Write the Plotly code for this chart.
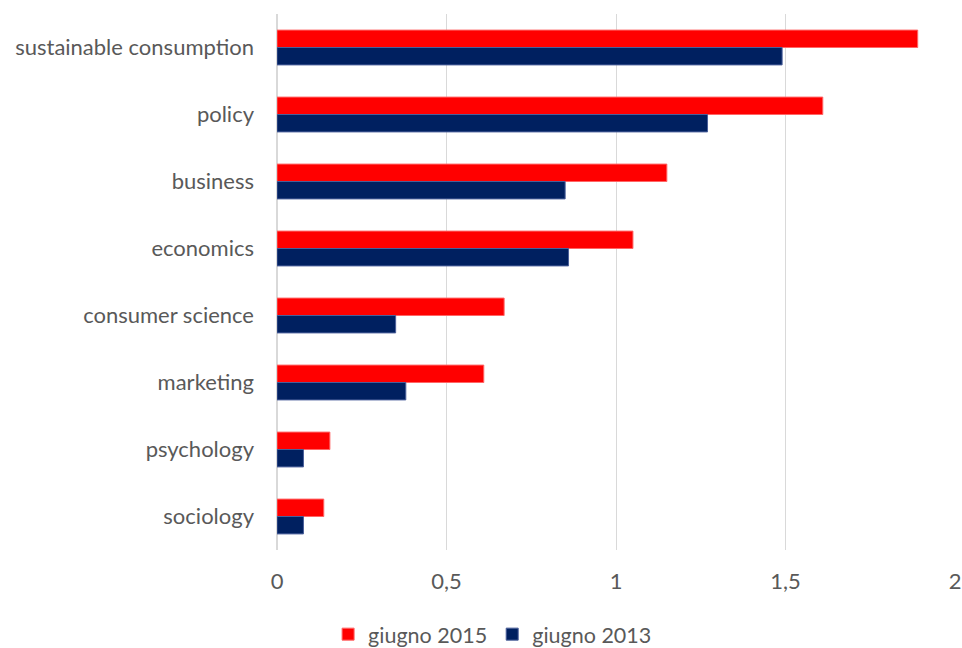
import plotly.graph_objects as go

categories = [
    "sustainable consumption",
    "policy",
    "business",
    "economics",
    "consumer science",
    "marketing",
    "psychology",
    "sociology",
]
values_2015 = [1.89, 1.61, 1.15, 1.05, 0.67, 0.61, 0.156, 0.138]
values_2013 = [1.49, 1.27, 0.85, 0.86, 0.35, 0.38, 0.078, 0.078]
series_names = ["giugno 2015", "giugno 2013"]
tick_values = [0, 0.5, 1, 1.5, 2]

text_color = "#595959"
font_family = "Lato, 'Open Sans', sans-serif"

fig = go.Figure()
fig.add_trace(go.Bar(
    y=categories, x=values_2015, orientation="h", name=series_names[0],
    marker=dict(color="#FF0000", line=dict(color="#FF6666", width=1)),
))
fig.add_trace(go.Bar(
    y=categories, x=values_2013, orientation="h", name=series_names[1],
    marker=dict(color="#002060", line=dict(color="#4A5F9A", width=1)),
))

fig.update_layout(
    width=962, height=648,
    paper_bgcolor="white", plot_bgcolor="white",
    margin=dict(l=277, r=7, t=14, b=98, autoexpand=False),
    barmode="group",
    bargap=0.48,
    bargroupgap=0,
    separators=", ",
    font=dict(family=font_family, size=22, color=text_color),
    legend=dict(
        orientation="h", x=0.318, xanchor="center", y=-0.157, yanchor="middle",
        font=dict(size=21.5, color=text_color),
        itemwidth=30, traceorder="normal",
    ),
    showlegend=True,
)
fig.update_xaxes(
    range=[0, 2], tickvals=tick_values, showgrid=True, automargin=False,
    gridcolor="#D9D9D9", gridwidth=1, zeroline=True, zerolinecolor="#D9D9D9",
    showline=False, ticks="", tickfont=dict(size=22, color=text_color),
    ticklabelstandoff=16,
)
fig.update_yaxes(
    autorange="reversed", showgrid=False, showline=False, ticks="",
    automargin=False,
    tickfont=dict(size=22, color=text_color), ticklabelstandoff=22,
)

fig.write_html("out.html")
